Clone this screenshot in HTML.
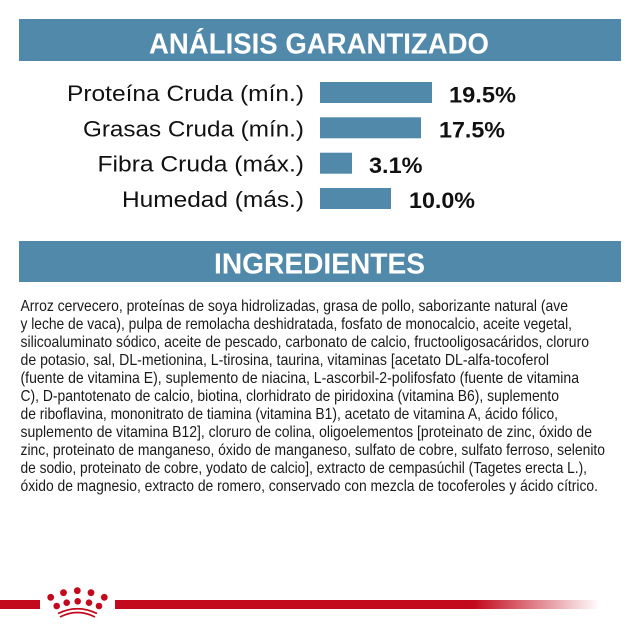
<!DOCTYPE html>
<html>
<head>
<meta charset="utf-8">
<style>
  html, body { margin: 0; padding: 0; background: #ffffff; }
  svg { display: block; }
  text { font-family: "Liberation Sans", "DejaVu Sans", sans-serif; }
</style>
</head>
<body>
<svg width="640" height="640" viewBox="0 0 640 640" xmlns="http://www.w3.org/2000/svg">
  <defs>
    <linearGradient id="fade" gradientUnits="userSpaceOnUse" x1="115" y1="0" x2="600" y2="0">
      <stop offset="0" stop-color="#c20a1c"/>
      <stop offset="0.74" stop-color="#c20a1c"/>
      <stop offset="1" stop-color="#c20a1c" stop-opacity="0"/>
    </linearGradient>
  </defs>
  <rect width="640" height="640" fill="#ffffff"/>

  <!-- Header 1 -->
  <rect x="19" y="19" width="602" height="42" fill="#5189ab"/>
  <text x="149" y="53.3" font-size="29" font-weight="bold" fill="#ffffff" textLength="340" lengthAdjust="spacingAndGlyphs">ANÁLISIS GARANTIZADO</text>

  <!-- Rows -->
  <g fill="#111111" font-size="22">
    <text x="67" y="101" textLength="237" lengthAdjust="spacingAndGlyphs">Proteína Cruda (mín.)</text>
    <text x="83" y="136.3" textLength="221" lengthAdjust="spacingAndGlyphs">Grasas Cruda (mín.)</text>
    <text x="97.5" y="171.6" textLength="206.5" lengthAdjust="spacingAndGlyphs">Fibra Cruda (máx.)</text>
    <text x="122" y="207" textLength="182" lengthAdjust="spacingAndGlyphs">Humedad (más.)</text>
  </g>
  <g fill="#5189ab">
    <rect x="320" y="82" width="112" height="21"/>
    <rect x="320" y="117.3" width="101" height="21"/>
    <rect x="320" y="152.7" width="32" height="21"/>
    <rect x="320" y="188" width="71" height="21"/>
  </g>
  <g fill="#111111" font-size="22" font-weight="bold">
    <text x="449" y="102.3" textLength="67" lengthAdjust="spacingAndGlyphs">19.5%</text>
    <text x="439" y="137.5" textLength="66" lengthAdjust="spacingAndGlyphs">17.5%</text>
    <text x="369" y="172.8" textLength="53.5" lengthAdjust="spacingAndGlyphs">3.1%</text>
    <text x="409" y="208.2" textLength="66" lengthAdjust="spacingAndGlyphs">10.0%</text>
  </g>

  <!-- Header 2 -->
  <rect x="19" y="241" width="602" height="41" fill="#5189ab"/>
  <text x="214" y="273.3" font-size="29" font-weight="bold" fill="#ffffff" textLength="211" lengthAdjust="spacingAndGlyphs">INGREDIENTES</text>

  <!-- Ingredients -->
  <g fill="#1a1a1a" font-size="16">
    <text x="20.5" y="311" textLength="547.5" lengthAdjust="spacingAndGlyphs">Arroz cervecero, proteínas de soya hidrolizadas, grasa de pollo, saborizante natural (ave</text>
    <text x="20.5" y="329" textLength="551.5" lengthAdjust="spacingAndGlyphs">y leche de vaca), pulpa de remolacha deshidratada, fosfato de monocalcio, aceite vegetal,</text>
    <text x="20.5" y="347" textLength="568.5" lengthAdjust="spacingAndGlyphs">silicoaluminato sódico, aceite de pescado, carbonato de calcio, fructooligosacáridos, cloruro</text>
    <text x="20.5" y="365" textLength="528.5" lengthAdjust="spacingAndGlyphs">de potasio, sal, DL-metionina, L-tirosina, taurina, vitaminas [acetato DL-alfa-tocoferol</text>
    <text x="20.5" y="383" textLength="558.5" lengthAdjust="spacingAndGlyphs">(fuente de vitamina E), suplemento de niacina, L-ascorbil-2-polifosfato (fuente de vitamina</text>
    <text x="20.5" y="401" textLength="538.5" lengthAdjust="spacingAndGlyphs">C), D-pantotenato de calcio, biotina, clorhidrato de piridoxina (vitamina B6), suplemento</text>
    <text x="20.5" y="419" textLength="537.5" lengthAdjust="spacingAndGlyphs">de riboflavina, mononitrato de tiamina (vitamina B1), acetato de vitamina A, ácido fólico,</text>
    <text x="20.5" y="437" textLength="571.5" lengthAdjust="spacingAndGlyphs">suplemento de vitamina B12], cloruro de colina, oligoelementos [proteinato de zinc, óxido de</text>
    <text x="20.5" y="455" textLength="584.5" lengthAdjust="spacingAndGlyphs">zinc, proteinato de manganeso, óxido de manganeso, sulfato de cobre, sulfato ferroso, selenito</text>
    <text x="20.5" y="473" textLength="566.5" lengthAdjust="spacingAndGlyphs">de sodio, proteinato de cobre, yodato de calcio], extracto de cempasúchil (Tagetes erecta L.),</text>
    <text x="20.5" y="491" textLength="577.5" lengthAdjust="spacingAndGlyphs">óxido de magnesio, extracto de romero, conservado con mezcla de tocoferoles y ácido cítrico.</text>
  </g>

  <!-- Bottom red band with crown -->
  <rect x="0" y="600" width="40" height="9" fill="#c20a1c"/>
  <rect x="115" y="600" width="485" height="9" fill="url(#fade)"/>
  <g fill="#c20a1c">
    <circle cx="50.7" cy="597.3" r="3.4"/>
    <circle cx="63.5" cy="592.7" r="3.4"/>
    <circle cx="77.3" cy="590.7" r="3.4"/>
    <circle cx="91" cy="592.7" r="3.4"/>
    <circle cx="104.3" cy="597.3" r="3.4"/>
    <circle cx="56.7" cy="606" r="3.3"/>
    <circle cx="66.7" cy="602.7" r="3.3"/>
    <circle cx="77.7" cy="601.3" r="3.3"/>
    <circle cx="89" cy="602.7" r="3.3"/>
    <circle cx="99" cy="606" r="3.3"/>
  </g>
  <g fill="none" stroke="#c20a1c" stroke-width="1.8">
    <path d="M58 613.5 Q77.5 604 97 613.5"/>
    <path d="M60 617 Q77.5 608 95 617"/>
  </g>
</svg>
</body>
</html>
